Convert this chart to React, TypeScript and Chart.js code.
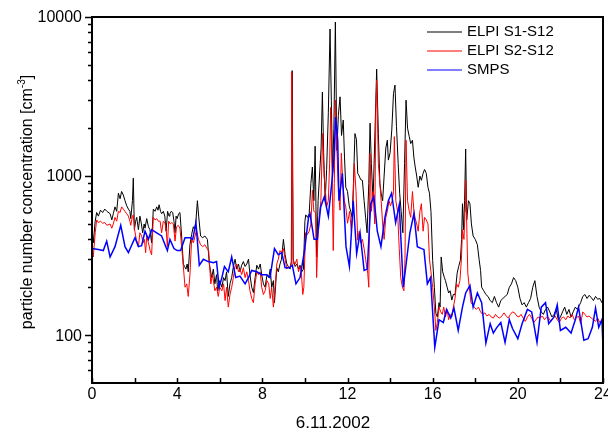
import React, { useEffect, useRef } from 'react';
import { Chart, registerables } from 'chart.js';

Chart.register(...registerables);

const FONT = '"Liberation Sans", Arial, Helvetica, sans-serif';

const seriesNames = ['ELPI S1-S12', 'ELPI S2-S12', 'SMPS'];
const seriesColors = ['#000000', '#ff0000', '#0000ff'];
const xTickHours = [0, 4, 8, 12, 16, 20, 24];
const xMinorHours = [2, 6, 10, 14, 18, 22];
const yTickValues = [100, 1000, 10000];
const yMinorValues = [60, 70, 80, 90, 200, 300, 400, 500, 600, 700, 800, 900, 2000, 3000, 4000, 5000, 6000, 7000, 8000, 9000];
const xTitle = '6.11.2002';
const yTitle = 'particle number concentration [cm';
const yTitleSup = '-3';

// [hour, concentration]
const elpiS1: number[][] = [
  [0.00, 480], [0.06, 380], [0.15, 520], [0.22, 590], [0.30, 560], [0.40, 610], [0.50, 590], [0.60, 620], [0.70, 600], [0.85, 580],
  [0.93, 530], [1.00, 580], [1.08, 640], [1.16, 600], [1.24, 780], [1.32, 720], [1.39, 800], [1.47, 760], [1.55, 700], [1.63, 650],
  [1.71, 620], [1.78, 600], [1.82, 540], [1.90, 700], [1.94, 970], [1.99, 460], [2.05, 520], [2.10, 550], [2.18, 460], [2.25, 560],
  [2.32, 500], [2.38, 440], [2.45, 500], [2.49, 470], [2.57, 540], [2.65, 480], [2.72, 460], [2.80, 380], [2.88, 620], [2.96, 600],
  [3.04, 640], [3.10, 610], [3.15, 660], [3.22, 600], [3.27, 580], [3.35, 600], [3.42, 560], [3.48, 450], [3.55, 600], [3.62, 560],
  [3.66, 580], [3.72, 600], [3.79, 590], [3.85, 520], [3.90, 440], [3.95, 560], [4.00, 540], [4.07, 580], [4.13, 590], [4.21, 420],
  [4.29, 280], [4.35, 270], [4.41, 260], [4.47, 280], [4.52, 250], [4.60, 370], [4.68, 430], [4.76, 480], [4.82, 460], [4.88, 520],
  [4.95, 700], [5.01, 560], [5.10, 420], [5.20, 410], [5.30, 420], [5.42, 400], [5.51, 280], [5.62, 230], [5.70, 260], [5.77, 210],
  [5.85, 240], [5.90, 190], [6.00, 220], [6.10, 200], [6.18, 230], [6.25, 220], [6.32, 250], [6.40, 175], [6.48, 210], [6.56, 230],
  [6.64, 270], [6.72, 300], [6.80, 260], [6.88, 280], [6.95, 250], [7.03, 275], [7.11, 290], [7.19, 270], [7.27, 280], [7.35, 300],
  [7.42, 240], [7.50, 200], [7.58, 185], [7.66, 230], [7.74, 275], [7.82, 260], [7.90, 280], [7.97, 240], [8.05, 210], [8.13, 200],
  [8.22, 240], [8.30, 230], [8.37, 260], [8.44, 200], [8.52, 220], [8.57, 160], [8.63, 210], [8.68, 265], [8.75, 250], [8.83, 280],
  [8.90, 300], [8.99, 400], [9.07, 320], [9.15, 280], [9.22, 270], [9.30, 260], [9.36, 290], [9.40, 4600], [9.45, 300], [9.54, 270],
  [9.62, 280], [9.70, 260], [9.77, 275], [9.85, 250], [9.93, 260], [10.00, 520], [10.04, 570], [10.12, 550], [10.20, 580], [10.28, 900],
  [10.35, 1140], [10.42, 700], [10.48, 1540], [10.55, 310], [10.62, 700], [10.70, 1090], [10.76, 1500], [10.82, 3370], [10.88, 1400], [10.95, 700],
  [11.02, 1100], [11.10, 2500], [11.18, 8400], [11.24, 3000], [11.30, 1040], [11.36, 2000], [11.43, 9300], [11.50, 1450], [11.57, 2400], [11.65, 3150],
  [11.72, 1800], [11.80, 2250], [11.86, 1300], [11.92, 850], [12.00, 800], [12.08, 650], [12.15, 600], [12.22, 550], [12.28, 900], [12.35, 1850],
  [12.42, 1700], [12.48, 1040], [12.55, 1000], [12.62, 950], [12.70, 940], [12.78, 700], [12.85, 550], [12.92, 440], [13.00, 900], [13.06, 2150],
  [13.12, 1200], [13.20, 700], [13.27, 1500], [13.33, 3000], [13.37, 4700], [13.45, 1850], [13.52, 900], [13.58, 780], [13.65, 700], [13.72, 1000],
  [13.80, 1500], [13.87, 1680], [13.92, 1260], [14.00, 1400], [14.08, 1950], [14.16, 3300], [14.23, 3730], [14.30, 2050], [14.38, 1200], [14.45, 780],
  [14.52, 600], [14.60, 440], [14.68, 1200], [14.75, 3000], [14.82, 2000], [14.90, 1770], [14.97, 1600], [15.05, 1680], [15.12, 1300], [15.18, 1140],
  [15.25, 1000], [15.32, 850], [15.40, 1000], [15.47, 940], [15.55, 1040], [15.62, 1100], [15.70, 1040], [15.78, 850], [15.85, 780], [15.92, 600],
  [16.00, 295], [16.08, 200], [16.15, 137], [16.22, 130], [16.30, 160], [16.35, 150], [16.40, 310], [16.47, 250], [16.55, 230], [16.60, 220],
  [16.68, 200], [16.75, 184], [16.82, 190], [16.90, 166], [16.97, 180], [17.05, 180], [17.15, 245], [17.22, 270], [17.30, 295], [17.36, 400],
  [17.40, 670], [17.45, 460], [17.50, 700], [17.55, 1480], [17.60, 530], [17.68, 700], [17.75, 670], [17.82, 500], [17.90, 420], [18.00, 400],
  [18.10, 370], [18.18, 300], [18.25, 255], [18.30, 200], [18.40, 190], [18.50, 180], [18.60, 175], [18.70, 165], [18.80, 160], [18.90, 175],
  [19.00, 160], [19.10, 150], [19.20, 165], [19.30, 170], [19.40, 175], [19.50, 180], [19.60, 200], [19.70, 210], [19.80, 230], [19.90, 220],
  [20.00, 200], [20.10, 170], [20.20, 155], [20.30, 160], [20.40, 150], [20.50, 160], [20.60, 170], [20.70, 200], [20.80, 220], [20.90, 175],
  [21.00, 150], [21.10, 140], [21.20, 135], [21.30, 145], [21.40, 150], [21.50, 140], [21.60, 130], [21.70, 135], [21.80, 145], [21.90, 125],
  [22.00, 130], [22.10, 140], [22.20, 150], [22.30, 135], [22.40, 145], [22.50, 130], [22.60, 140], [22.70, 150], [22.80, 145], [22.90, 155],
  [22.95, 160], [23.05, 175], [23.15, 180], [23.25, 170], [23.35, 178], [23.45, 172], [23.55, 165], [23.65, 175], [23.75, 168], [23.85, 170],
  [23.95, 160], [24.00, 165],
];

const elpiS2: number[][] = [
  [0.00, 330], [0.06, 310], [0.15, 440], [0.22, 530], [0.30, 510], [0.40, 520], [0.50, 505], [0.60, 510], [0.70, 490], [0.85, 500],
  [0.93, 470], [1.00, 500], [1.08, 550], [1.16, 520], [1.24, 600], [1.32, 590], [1.39, 640], [1.47, 620], [1.55, 600], [1.63, 580],
  [1.71, 560], [1.78, 520], [1.82, 490], [1.90, 560], [1.94, 570], [2.00, 460], [2.08, 400], [2.18, 360], [2.25, 440], [2.33, 420],
  [2.40, 380], [2.46, 400], [2.52, 330], [2.57, 420], [2.65, 380], [2.73, 340], [2.80, 320], [2.88, 550], [2.96, 530], [3.04, 540],
  [3.12, 520], [3.20, 520], [3.27, 440], [3.35, 520], [3.42, 510], [3.48, 470], [3.54, 360], [3.60, 520], [3.68, 500], [3.75, 510],
  [3.82, 500], [3.90, 390], [3.97, 480], [4.05, 490], [4.13, 470], [4.21, 360], [4.28, 280], [4.37, 200], [4.45, 210], [4.52, 175],
  [4.60, 240], [4.68, 400], [4.76, 380], [4.84, 420], [4.91, 460], [5.00, 400], [5.10, 370], [5.20, 360], [5.30, 370], [5.40, 350],
  [5.48, 340], [5.58, 210], [5.66, 240], [5.77, 190], [5.85, 200], [5.93, 175], [6.00, 200], [6.10, 190], [6.18, 210], [6.25, 165],
  [6.32, 200], [6.40, 150], [6.48, 180], [6.56, 200], [6.64, 230], [6.72, 270], [6.80, 280], [6.88, 250], [6.95, 260], [7.03, 240],
  [7.11, 265], [7.19, 230], [7.27, 250], [7.35, 220], [7.42, 190], [7.50, 170], [7.58, 160], [7.66, 210], [7.74, 250], [7.82, 240],
  [7.90, 250], [7.97, 200], [8.05, 180], [8.13, 190], [8.22, 220], [8.30, 210], [8.37, 170], [8.44, 200], [8.52, 150], [8.60, 200],
  [8.68, 280], [8.75, 300], [8.83, 340], [8.90, 330], [8.99, 350], [9.07, 300], [9.15, 260], [9.22, 270], [9.30, 265], [9.36, 280],
  [9.38, 4500], [9.45, 280], [9.54, 280], [9.62, 300], [9.70, 250], [9.77, 270], [9.82, 260], [9.90, 180], [9.95, 200], [10.03, 440],
  [10.12, 430], [10.20, 450], [10.28, 500], [10.35, 815], [10.42, 600], [10.50, 590], [10.55, 230], [10.62, 450], [10.70, 600], [10.75, 700],
  [10.83, 1850], [10.90, 1000], [10.95, 850], [11.02, 640], [11.10, 700], [11.16, 1200], [11.21, 2700], [11.28, 1000], [11.33, 340], [11.38, 900],
  [11.44, 3000], [11.50, 1500], [11.57, 800], [11.65, 610], [11.71, 1390], [11.78, 900], [11.85, 700], [11.92, 640], [12.00, 505], [12.10, 600],
  [12.18, 450], [12.25, 600], [12.32, 1200], [12.40, 800], [12.48, 395], [12.55, 450], [12.62, 380], [12.70, 400], [12.78, 350], [12.85, 300],
  [12.95, 245], [13.00, 200], [13.06, 1390], [13.12, 600], [13.20, 800], [13.28, 500], [13.33, 2500], [13.37, 4000], [13.45, 1200], [13.52, 900],
  [13.58, 700], [13.65, 500], [13.72, 400], [13.80, 550], [13.87, 600], [13.95, 700], [14.02, 650], [14.10, 700], [14.16, 800], [14.20, 1770],
  [14.27, 700], [14.35, 600], [14.43, 350], [14.50, 230], [14.58, 200], [14.65, 190], [14.70, 300], [14.75, 1680], [14.82, 700], [14.90, 600],
  [14.97, 550], [15.05, 800], [15.12, 600], [15.17, 550], [15.25, 500], [15.32, 450], [15.40, 600], [15.47, 670], [15.55, 450], [15.62, 550],
  [15.70, 530], [15.78, 500], [15.85, 300], [15.92, 250], [16.00, 200], [16.08, 150], [16.15, 107], [16.22, 120], [16.30, 150], [16.38, 140],
  [16.45, 135], [16.52, 150], [16.60, 130], [16.68, 145], [16.75, 125], [16.82, 135], [16.90, 130], [16.97, 150], [17.05, 170], [17.12, 210],
  [17.20, 200], [17.28, 220], [17.35, 300], [17.40, 460], [17.47, 400], [17.52, 600], [17.55, 940], [17.60, 500], [17.65, 245], [17.72, 200],
  [17.80, 160], [17.88, 155], [17.95, 150], [18.05, 145], [18.15, 150], [18.25, 140], [18.35, 135], [18.45, 138], [18.55, 132], [18.65, 135],
  [18.75, 130], [18.85, 128], [18.95, 135], [19.05, 130], [19.15, 128], [19.25, 132], [19.35, 138], [19.45, 132], [19.55, 128], [19.65, 135],
  [19.75, 140], [19.85, 138], [19.95, 132], [20.05, 130], [20.15, 135], [20.25, 128], [20.35, 122], [20.45, 130], [20.55, 135], [20.65, 128],
  [20.75, 120], [20.85, 125], [20.95, 130], [21.05, 128], [21.15, 132], [21.25, 125], [21.35, 130], [21.45, 128], [21.55, 122], [21.65, 128],
  [21.75, 132], [21.85, 125], [21.95, 120], [22.05, 128], [22.15, 130], [22.25, 125], [22.35, 132], [22.45, 128], [22.55, 135], [22.65, 125],
  [22.75, 128], [22.85, 132], [22.95, 118], [23.05, 140], [23.15, 135], [23.25, 130], [23.35, 132], [23.45, 128], [23.55, 125], [23.65, 122],
  [23.75, 128], [23.85, 120], [23.95, 125], [24.00, 122],
];

const smps: number[][] = [
  [0.00, 350], [0.30, 345], [0.53, 340], [0.69, 390], [0.85, 310], [1.08, 360], [1.35, 490], [1.55, 360], [1.71, 330], [1.87, 370],
  [2.02, 410], [2.18, 360], [2.33, 365], [2.49, 450], [2.65, 400], [2.80, 460], [3.04, 440], [3.27, 420], [3.43, 370], [3.54, 340],
  [3.66, 400], [3.85, 350], [4.00, 340], [4.16, 340], [4.37, 410], [4.60, 410], [4.73, 400], [4.88, 510], [5.04, 275], [5.23, 300],
  [5.46, 290], [5.70, 285], [5.85, 290], [5.97, 200], [6.10, 230], [6.22, 270], [6.40, 250], [6.56, 310], [6.75, 230], [6.95, 235],
  [7.19, 210], [7.35, 230], [7.50, 255], [7.74, 250], [7.97, 240], [8.20, 240], [8.36, 230], [8.57, 350], [8.75, 320], [8.91, 330],
  [9.07, 265], [9.26, 265], [9.41, 275], [9.58, 210], [9.77, 230], [9.98, 340], [10.17, 550], [10.24, 580], [10.43, 400], [10.58, 400],
  [10.74, 640], [10.91, 740], [11.10, 560], [11.26, 900], [11.37, 1320], [11.44, 2350], [11.54, 1680], [11.60, 700], [11.76, 1040], [11.93, 360],
  [12.09, 270], [12.27, 700], [12.43, 325], [12.59, 440], [12.78, 255], [12.93, 260], [13.09, 670], [13.24, 740], [13.40, 450], [13.57, 360],
  [13.76, 550], [13.92, 700], [14.07, 780], [14.26, 510], [14.43, 660], [14.62, 200], [14.78, 300], [14.93, 440], [15.12, 580], [15.28, 360],
  [15.48, 350], [15.59, 345], [15.75, 210], [15.90, 230], [16.10, 84], [16.30, 125], [16.50, 120], [16.65, 145], [16.85, 128], [17.00, 148],
  [17.20, 107], [17.40, 150], [17.55, 184], [17.75, 205], [17.90, 150], [18.10, 184], [18.30, 160], [18.50, 89], [18.70, 118], [18.85, 103],
  [19.00, 111], [19.20, 120], [19.40, 90], [19.60, 125], [19.75, 110], [20.00, 95], [20.20, 118], [20.45, 145], [20.65, 140], [20.90, 90],
  [21.10, 150], [21.30, 160], [21.45, 118], [21.70, 130], [21.85, 155], [22.00, 107], [22.25, 112], [22.50, 103], [22.70, 125], [22.85, 150],
  [23.10, 93], [23.30, 95], [23.50, 112], [23.65, 148], [23.80, 112], [23.95, 125], [24.00, 84],
];

const seriesData = [elpiS1, elpiS2, smps];

const axesPlugin = {
  id: 'originAxes',
  afterDraw(chart: any) {
    const { ctx, chartArea: a, scales } = chart;
    const xs = scales.x;
    const ys = scales.y;
    ctx.save();
    ctx.strokeStyle = '#000';
    ctx.fillStyle = '#000';
    // frame
    ctx.lineWidth = 2;
    ctx.beginPath();
    ctx.moveTo(a.left, a.bottom);
    ctx.lineTo(a.left, a.top);
    ctx.lineTo(a.right, a.top);
    ctx.lineTo(a.right, a.bottom);
    ctx.closePath();
    ctx.stroke();
    // y ticks (outward)
    ctx.lineWidth = 1.5;
    ctx.beginPath();
    yTickValues.forEach((v) => {
      const p = Math.round(ys.getPixelForValue(v)) + 0.5;
      ctx.moveTo(a.left - 7, p);
      ctx.lineTo(a.left, p);
    });
    yMinorValues.forEach((v) => {
      const p = Math.round(ys.getPixelForValue(v)) + 0.5;
      ctx.moveTo(a.left - 4, p);
      ctx.lineTo(a.left, p);
    });
    ctx.stroke();
    // x ticks (inward)
    ctx.beginPath();
    [...xTickHours, ...xMinorHours].forEach((h) => {
      const p = Math.round(xs.getPixelForValue(h)) + 0.5;
      ctx.moveTo(p, a.bottom);
      ctx.lineTo(p, a.bottom - 5);
    });
    ctx.stroke();
    // tick labels
    ctx.font = `16px ${FONT}`;
    ctx.textAlign = 'right';
    ctx.textBaseline = 'middle';
    yTickValues.forEach((v) => {
      ctx.fillText(String(v), a.left - 10, ys.getPixelForValue(v) + 1);
    });
    ctx.textAlign = 'center';
    ctx.textBaseline = 'top';
    xTickHours.forEach((h) => {
      ctx.fillText(String(h), xs.getPixelForValue(h), a.bottom + 4);
    });
    // x title
    ctx.font = `17px ${FONT}`;
    ctx.textBaseline = 'alphabetic';
    ctx.fillText(xTitle, 333, 428);
    // y title with superscript
    ctx.translate(31.5, (a.top + a.bottom) / 2 + 2);
    ctx.rotate(-Math.PI / 2);
    ctx.font = `16px ${FONT}`;
    const w1 = ctx.measureText(yTitle).width;
    ctx.font = `10px ${FONT}`;
    const w2 = ctx.measureText(yTitleSup).width;
    ctx.font = `16px ${FONT}`;
    const w3 = ctx.measureText(']').width;
    const total = w1 + w2 + w3;
    let x0 = -total / 2;
    ctx.textAlign = 'left';
    ctx.fillText(yTitle, x0, 0);
    x0 += w1;
    ctx.font = `10px ${FONT}`;
    ctx.fillText(yTitleSup, x0, -7);
    x0 += w2;
    ctx.font = `16px ${FONT}`;
    ctx.fillText(']', x0, 0);
    ctx.restore();

    // legend
    for (let i = 0; i < seriesNames.length; i++) {
      const y = 32 + i * 19;
      ctx.save();
      ctx.strokeStyle = seriesColors[i];
      ctx.lineWidth = 1.2;
      ctx.beginPath();
      ctx.moveTo(427, y);
      ctx.lineTo(462, y);
      ctx.stroke();
      ctx.restore();
      ctx.save();
      ctx.font = `15px ${FONT}`;
      ctx.textAlign = 'left';
      ctx.textBaseline = 'middle';
      ctx.fillStyle = '#000000';
      ctx.fillText(seriesNames[i], 467, y);
      ctx.restore();
    }
  },
};

export default function App() {
  const canvasRef = useRef<HTMLCanvasElement | null>(null);

  useEffect(() => {
    document.body.style.margin = '0';
    const canvas = canvasRef.current;
    if (!canvas) return;
    const chart = new Chart(canvas, {
      type: 'line',
      data: {
        datasets: seriesData.map((pts, i) => ({
          label: seriesNames[i],
          data: pts.map(([h, v]) => ({ x: h, y: v })),
          borderColor: seriesColors[i],
          backgroundColor: seriesColors[i],
          borderWidth: i === 2 ? 1.5 : 1,
          pointRadius: 0,
          tension: 0,
          fill: false,
          order: 3 - i,
        })),
      },
      options: {
        animation: false,
        responsive: false,
        devicePixelRatio: 1,
        layout: { padding: { left: 92, right: 5, top: 17, bottom: 49 } },
        plugins: { legend: { display: false }, tooltip: { enabled: false } },
        scales: {
          x: { type: 'linear', min: 0, max: 24, display: false },
          y: { type: 'logarithmic', min: 50, max: 10000, display: false },
        },
      },
      plugins: [axesPlugin],
    });
    return () => chart.destroy();
  }, []);

  return (
    <div style={{ width: 608, height: 432, background: '#fff' }}>
      <canvas ref={canvasRef} width={608} height={432} style={{ display: 'block' }} />
    </div>
  );
}
